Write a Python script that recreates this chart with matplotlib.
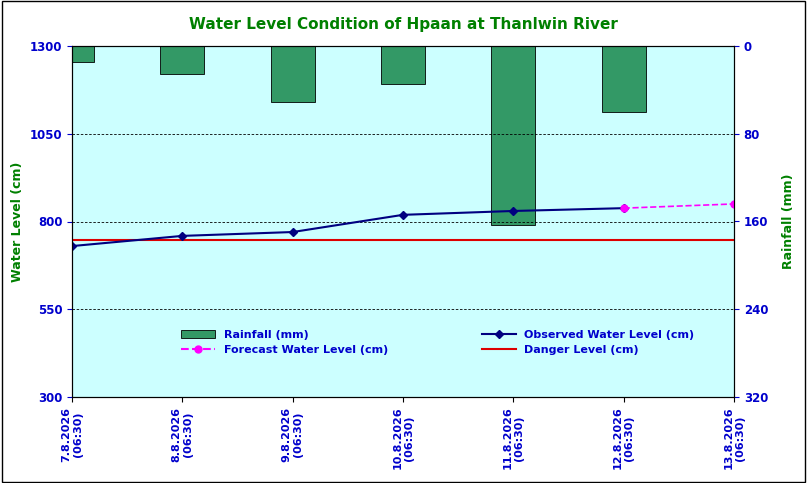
import matplotlib.pyplot as plt
from matplotlib.lines import Line2D
from matplotlib.patches import Patch

dates = ["7.8.2026\n(06:30)", "8.8.2026\n(06:30)", "9.8.2026\n(06:30)", "10.8.2026\n(06:30)",
         "11.8.2026\n(06:30)", "12.8.2026\n(06:30)", "13.8.2026\n(06:30)"]
rainfall = [14.5, 25.5, 51, 34.5, 163, 60]
observed = [730, 759, 770, 819, 830, 838]
forecast_x = [5, 6]
forecast = [838, 850]
danger = 747

fig = plt.figure(figsize=(8.07, 4.83), dpi=100)
fig.patches.append(plt.Rectangle((0.002, 0.002), 0.995, 0.995, transform=fig.transFigure,
                                 fill=False, edgecolor='black', lw=1))
ax = fig.add_axes([72/807, 1-397/483, (734-72)/807, (397-46)/483])
ax2 = ax.twinx()

ax2.bar(range(len(rainfall)), rainfall, width=0.4, color='#339966', edgecolor='black', lw=0.6, zorder=1)
ax2.set_ylim(320, 0)
ax2.set_yticks([0, 80, 160, 240, 320])

ax.set_zorder(ax2.get_zorder() + 1)
ax.patch.set_visible(False)
ax2.patch.set_visible(True)
ax2.patch.set_facecolor('#ccffff')
ax.set_xlim(0, 6)
ax.set_ylim(300, 1300)
ax.set_yticks([300, 550, 800, 1050, 1300])
for v in [550, 800, 1050, 1300]:
    ax.axhline(v, color='black', ls=(0, (3, 2)), lw=0.6, zorder=0)
ax.axhline(danger, color='#dd0000', lw=1.5)
ax.plot(range(len(observed)), observed, color='#000080', marker='D', ms=4, lw=1.5)
ax.plot(forecast_x, forecast, color='#ff00ff', ls='--', marker='o', ms=5, lw=1.2)

ax.set_xticks(range(len(dates)))
ax.set_xticklabels(dates, rotation=90, color='#0000cc', fontsize=8, fontweight='bold')
for a in (ax, ax2):
    a.tick_params(axis='y', colors='#0000cc', labelsize=8.5)
    for t in a.get_yticklabels():
        t.set_fontweight('bold')
ax.set_ylabel("Water Level (cm)", color='#008000', fontweight='bold', fontsize=9)
ax2.set_ylabel("Rainfall (mm)", color='#008000', fontweight='bold', fontsize=9, labelpad=10)
fig.text(0.5, 0.94, "Water Level Condition of Hpaan at Thanlwin River", ha='center',
         color='#008000', fontweight='bold', fontsize=11)

# column-major fill: column 1 = rainfall, forecast; column 2 = observed, danger
handles = [Patch(facecolor='#339966', edgecolor='black', lw=0.6),
           Line2D([], [], color='#ff00ff', ls='--', marker='o', ms=5),
           Line2D([], [], color='#000080', marker='D', ms=4),
           Line2D([], [], color='#dd0000', lw=1.5)]
labels = ["Rainfall (mm)", "Forecast Water Level (cm)", "Observed Water Level (cm)", "Danger Level (cm)"]
leg = ax.legend(handles, labels, loc='upper left', bbox_to_anchor=(0.15, 0.22), ncol=2,
                frameon=False, fontsize=8, columnspacing=8.5, handlelength=3)
for t in leg.get_texts():
    t.set_color('#0000cc')
    t.set_fontweight('bold')

fig.savefig("out.png", dpi=100)
